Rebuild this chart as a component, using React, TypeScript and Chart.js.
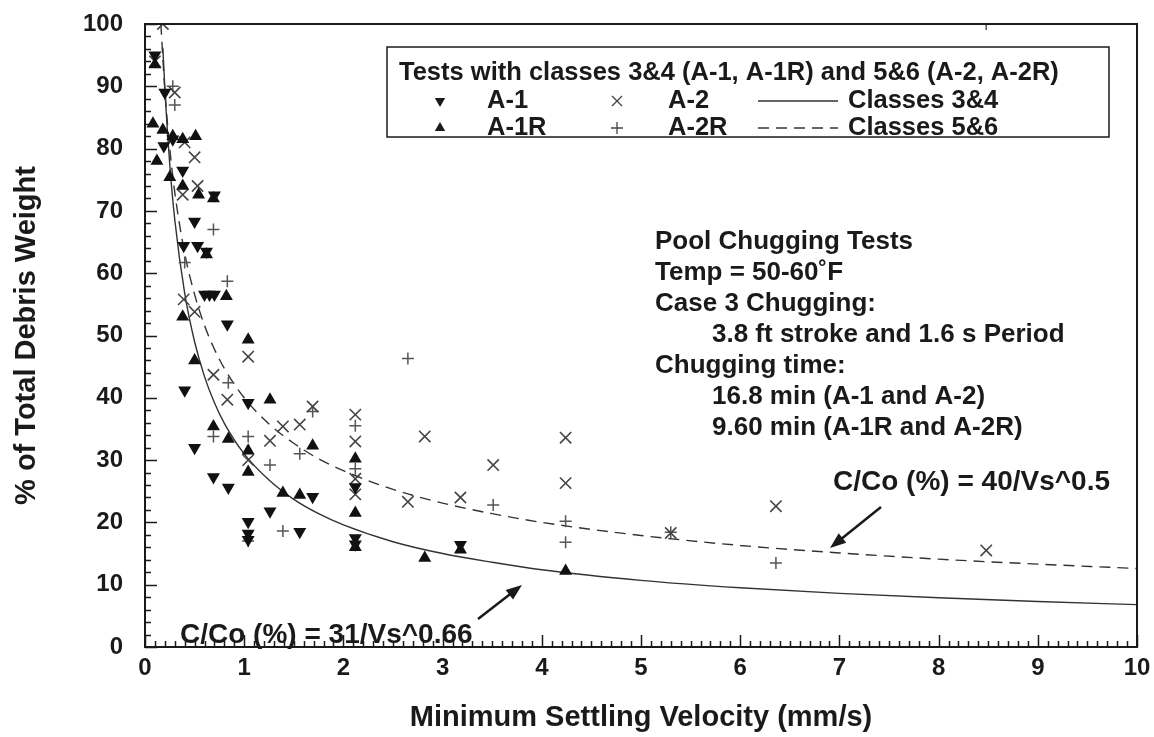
import React, { useEffect, useRef } from "react";
import { Chart, registerables } from "chart.js";
Chart.register(...registerables);

// ---- data ----
const A1_X = [0.1, 0.2, 0.19, 0.28, 0.38, 0.7, 0.5, 0.39, 0.53, 0.62, 0.6, 0.65, 0.7, 0.83, 0.4, 1.04, 0.5, 0.69, 0.84, 1.26, 1.04, 1.04, 1.04, 1.56, 1.69, 2.12, 2.12, 2.12, 3.18];
const A1_Y = [95, 89, 80.4, 81.5, 76.5, 72.5, 68.3, 64.4, 64.4, 63.5, 56.6, 56.6, 56.6, 51.8, 41.2, 39.2, 32, 27.3, 25.6, 21.8, 20.1, 18.2, 17.2, 18.5, 24.1, 25.7, 17.5, 16.5, 16.4];

const A1R_X = [0.1, 0.08, 0.18, 0.28, 0.38, 0.51, 0.12, 0.25, 0.38, 0.54, 0.69, 0.62, 0.82, 0.38, 0.5, 1.04, 1.26, 0.69, 0.84, 1.04, 1.04, 1.69, 1.39, 1.56, 2.12, 2.12, 2.12, 2.82, 3.18, 4.24];
const A1R_Y = [93.5, 84, 83, 82, 81.5, 82, 78, 75.4, 74, 72.6, 72, 63, 56.3, 53, 46, 49.3, 39.7, 35.4, 33.4, 31.5, 28.1, 32.3, 24.7, 24.4, 30.2, 21.5, 16, 14.3, 15.6, 12.2];

const A2_X = [0.18, 0.1, 0.3, 0.4, 0.5, 0.38, 0.53, 0.39, 0.5, 1.04, 0.69, 0.83, 1.26, 1.04, 1.39, 1.56, 1.69, 2.12, 2.12, 2.12, 2.12, 2.65, 2.82, 3.18, 3.51, 4.24, 4.24, 5.3, 6.36, 8.48];
const A2_Y = [100, 94, 89, 81, 78.6, 72.6, 74, 55.8, 53.8, 46.6, 43.7, 39.7, 33.1, 30, 35.4, 35.7, 38.6, 37.3, 33, 27, 24.5, 23.3, 33.8, 24, 29.2, 33.6, 26.3, 18.3, 22.6, 15.5];

const A2R_X = [0.28, 0.3, 0.69, 0.4, 0.83, 0.84, 0.69, 1.04, 1.26, 1.56, 1.69, 1.39, 1.04, 2.12, 2.12, 2.65, 3.51, 4.24, 4.24, 5.3, 6.36, 8.48];
const A2R_Y = [90, 87, 67, 61.7, 58.7, 42.4, 33.8, 33.8, 29.2, 31, 37.8, 18.6, 17, 35.5, 28.6, 46.3, 22.8, 20.2, 16.8, 18.4, 13.5, 100];

// fitted curves
const FIT34_X = [0.18, 0.2, 0.25, 0.3, 0.4, 0.5, 0.6, 0.7, 0.8, 1, 1.25, 1.5, 1.75, 2, 2.5, 3, 3.5, 4, 5, 6, 7, 8, 9, 10];
const FIT34_Y = [96.2, 89.7, 77.4, 68.6, 56.8, 49, 43.4, 39.2, 35.9, 31, 26.8, 23.7, 21.4, 19.6, 16.9, 15, 13.6, 12.4, 10.7, 9.5, 8.6, 7.9, 7.3, 6.8];
const FIT56_X = [0.16, 0.2, 0.25, 0.3, 0.4, 0.5, 0.6, 0.7, 0.8, 1, 1.25, 1.5, 1.75, 2, 2.5, 3, 3.5, 4, 5, 6, 7, 8, 9, 10];
const FIT56_Y = [100, 89.4, 80, 73, 63.2, 56.6, 51.6, 47.8, 44.7, 40, 35.8, 32.7, 30.2, 28.3, 25.3, 23.1, 21.4, 20, 17.9, 16.3, 15.1, 14.1, 13.3, 12.6];

const X_TICKS = [0, 1, 2, 3, 4, 5, 6, 7, 8, 9, 10];
const Y_TICKS = [0, 10, 20, 30, 40, 50, 60, 70, 80, 90, 100];

const LEGEND_TITLE = "Tests with classes 3&4 (A-1, A-1R) and 5&6 (A-2, A-2R)";
const NOTE_LINES = [
  { t: "Pool Chugging Tests", indent: false },
  { t: "Temp = 50-60\u02DAF", indent: false },
  { t: "Case 3 Chugging:", indent: false },
  { t: "3.8 ft stroke and 1.6 s Period", indent: true },
  { t: "Chugging time:", indent: false },
  { t: "16.8 min (A-1 and A-2)", indent: true },
  { t: "9.60 min (A-1R and A-2R)", indent: true },
];
const EQ56 = "C/Co (%) = 40/Vs^0.5";
const EQ34 = "C/Co (%) = 31/Vs^0.66";

const FONT = "'Liberation Sans', Arial, Helvetica, sans-serif";
const INK = "#1a1a1a";

const pts = (xs: number[], ys: number[]) => xs.map((x, i) => ({ x, y: ys[i] }));

function drawTri(ctx: CanvasRenderingContext2D, x: number, y: number, r: number, down: boolean) {
  ctx.beginPath();
  const s = down ? -1 : 1;
  ctx.moveTo(x, y - s * r);
  ctx.lineTo(x + r * 0.866, y + s * r * 0.5);
  ctx.lineTo(x - r * 0.866, y + s * r * 0.5);
  ctx.closePath();
  ctx.fill();
}

function arrow(ctx: CanvasRenderingContext2D, x1: number, y1: number, x2: number, y2: number) {
  const a = Math.atan2(y2 - y1, x2 - x1);
  const hl = 16, hw = 6;
  ctx.beginPath();
  ctx.moveTo(x1, y1);
  ctx.lineTo(x2 - Math.cos(a) * hl * 0.8, y2 - Math.sin(a) * hl * 0.8);
  ctx.lineWidth = 2.5;
  ctx.strokeStyle = INK;
  ctx.stroke();
  ctx.beginPath();
  ctx.moveTo(x2, y2);
  ctx.lineTo(x2 - Math.cos(a) * hl - Math.sin(a) * hw, y2 - Math.sin(a) * hl + Math.cos(a) * hw);
  ctx.lineTo(x2 - Math.cos(a) * hl + Math.sin(a) * hw, y2 - Math.sin(a) * hl - Math.cos(a) * hw);
  ctx.closePath();
  ctx.fillStyle = INK;
  ctx.fill();
}

const decorPlugin = {
  id: "decor",
  afterDraw(chart: any) {
    const { ctx, chartArea: ca, scales } = chart;
    const xs = scales.x, ys = scales.y;
    ctx.save();
    // frame
    ctx.strokeStyle = INK;
    ctx.lineWidth = 2;
    ctx.strokeRect(ca.left, ca.top, ca.right - ca.left, ca.bottom - ca.top);
    // inward ticks
    ctx.lineWidth = 1.5;
    ctx.beginPath();
    for (let v = 0; v <= 100; v += 2) {
      const y = Math.round(ys.getPixelForValue(v)) + 0.5;
      const len = v % 10 === 0 ? 12 : 6;
      ctx.moveTo(ca.left, y);
      ctx.lineTo(ca.left + len, y);
    }
    for (let k = 0; k <= 100; k++) {
      const x = Math.round(xs.getPixelForValue(k / 10)) + 0.5;
      const len = k % 10 === 0 ? 12 : 6;
      ctx.moveTo(x, ca.bottom);
      ctx.lineTo(x, ca.bottom - len);
    }
    ctx.stroke();

    // legend box
    const L = { x: 387, y: 47, w: 722, h: 90 };
    ctx.fillStyle = "#fff";
    ctx.fillRect(L.x, L.y, L.w, L.h);
    ctx.lineWidth = 1.5;
    ctx.strokeRect(L.x, L.y, L.w, L.h);
    ctx.fillStyle = INK;
    ctx.textBaseline = "middle";
    ctx.textAlign = "left";
    ctx.font = `bold 25.5px ${FONT}`;
    ctx.fillText(LEGEND_TITLE, 399, 73);
    const r2 = 101, r3 = 128;
    drawTri(ctx, 440, r2, 6, true);
    drawTri(ctx, 440, r3, 6, false);
    ctx.fillText("A-1", 487, r2);
    ctx.fillText("A-1R", 487, r3);
    ctx.strokeStyle = "#444";
    ctx.lineWidth = 1.3;
    ctx.beginPath();
    ctx.moveTo(612, r2 - 5); ctx.lineTo(622, r2 + 5);
    ctx.moveTo(622, r2 - 5); ctx.lineTo(612, r2 + 5);
    ctx.moveTo(611, r3); ctx.lineTo(623, r3);
    ctx.moveTo(617, r3 - 6); ctx.lineTo(617, r3 + 6);
    ctx.stroke();
    ctx.fillText("A-2", 668, r2);
    ctx.fillText("A-2R", 668, r3);
    ctx.strokeStyle = "#333";
    ctx.lineWidth = 1.3;
    ctx.beginPath();
    ctx.moveTo(758, r2); ctx.lineTo(838, r2);
    ctx.stroke();
    ctx.setLineDash([11, 7]);
    ctx.beginPath();
    ctx.moveTo(758, r3); ctx.lineTo(838, r3);
    ctx.stroke();
    ctx.setLineDash([]);
    ctx.fillText("Classes 3&4", 848, r2);
    ctx.fillText("Classes 5&6", 848, r3);

    // notes
    ctx.font = `bold 26px ${FONT}`;
    NOTE_LINES.forEach((n, i) => {
      ctx.fillText(n.t, n.indent ? 712 : 655, 242 + i * 31);
    });

    // equations
    ctx.font = `bold 28px ${FONT}`;
    ctx.fillText(EQ56, 833, 482);
    ctx.fillText(EQ34, 180, 635);
    arrow(ctx, 881, 507, 830, 548);
    arrow(ctx, 478, 619, 522, 585);
    ctx.restore();
  },
};

export default function App() {
  const ref = useRef<HTMLCanvasElement | null>(null);
  useEffect(() => {
    if (!ref.current) return;
    const chart = new Chart(ref.current, {
      type: "scatter",
      data: {
        datasets: [
          {
            label: "A-1",
            data: pts(A1_X, A1_Y),
            pointStyle: "triangle",
            rotation: 180,
            pointRadius: 7.5,
            backgroundColor: "#111",
            borderColor: "#111",
            borderWidth: 0,
          },
          {
            label: "A-1R",
            data: pts(A1R_X, A1R_Y),
            pointStyle: "triangle",
            pointRadius: 7.5,
            backgroundColor: "#111",
            borderColor: "#111",
            borderWidth: 0,
          },
          {
            label: "A-2",
            data: pts(A2_X, A2_Y),
            pointStyle: "crossRot",
            pointRadius: 8,
            backgroundColor: "#444",
            borderColor: "#444",
            borderWidth: 1.6,
          },
          {
            label: "A-2R",
            data: pts(A2R_X, A2R_Y),
            pointStyle: "cross",
            pointRadius: 6,
            backgroundColor: "#555",
            borderColor: "#555",
            borderWidth: 1.5,
          },
          {
            label: "Classes 3&4",
            data: pts(FIT34_X, FIT34_Y),
            showLine: true,
            pointRadius: 0,
            borderColor: "#333",
            borderWidth: 1.4,
            cubicInterpolationMode: "monotone",
            fill: false,
          },
          {
            label: "Classes 5&6",
            data: pts(FIT56_X, FIT56_Y),
            showLine: true,
            pointRadius: 0,
            borderColor: "#333",
            borderWidth: 1.4,
            borderDash: [11, 7],
            cubicInterpolationMode: "monotone",
            fill: false,
          },
        ],
      },
      options: {
        responsive: false,
        animation: false,
        layout: { padding: { top: 24, right: 17, left: 0, bottom: 0 } },
        plugins: { legend: { display: false }, tooltip: { enabled: false } },
        scales: {
          x: {
            type: "linear",
            min: 0,
            max: 10,
            afterFit: (s: any) => { s.height = 90; s.paddingLeft = 0; s.paddingRight = 0; },
            afterBuildTicks: (s: any) => { s.ticks = X_TICKS.map((v) => ({ value: v })); },
            grid: { display: false, drawTicks: false },
            border: { display: false },
            ticks: { color: INK, padding: 7, font: { family: FONT, size: 24, weight: "bold" } },
            title: {
              display: true,
              text: "Minimum Settling Velocity (mm/s)",
              color: INK,
              padding: { top: 0, bottom: 2 },
              font: { family: FONT, size: 29, weight: "bold" },
            },
          },
          y: {
            type: "linear",
            min: 0,
            max: 100,
            afterFit: (s: any) => { s.width = 145; s.paddingTop = 0; s.paddingBottom = 0; },
            afterBuildTicks: (s: any) => { s.ticks = Y_TICKS.map((v) => ({ value: v })); },
            grid: { display: false, drawTicks: false },
            border: { display: false },
            ticks: { color: INK, padding: 22, font: { family: FONT, size: 24, weight: "bold" } },
            title: {
              display: true,
              text: "% of Total Debris Weight",
              color: INK,
              padding: { top: 10, bottom: 0 },
              font: { family: FONT, size: 29, weight: "bold" },
            },
          },
        },
      },
      plugins: [decorPlugin],
    } as any);
    return () => chart.destroy();
  }, []);
  return (
    <div style={{ position: "absolute", left: 0, top: 0, width: 1154, height: 737, background: "#fff" }}>
      <canvas ref={ref} width={1154} height={737} style={{ width: 1154, height: 737, display: "block" }} />
    </div>
  );
}
